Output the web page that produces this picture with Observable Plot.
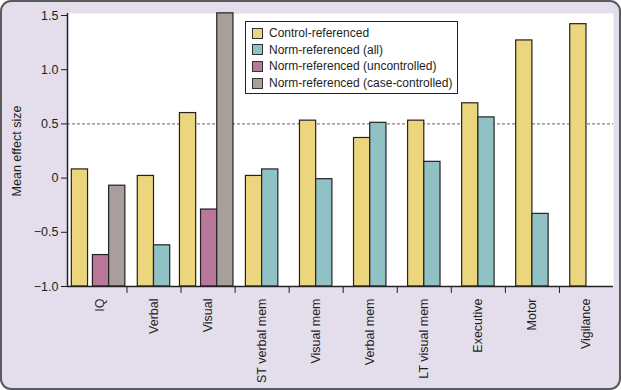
<!DOCTYPE html>
<html>
<head>
<meta charset="utf-8">
<script src="https://cdn.jsdelivr.net/npm/d3@7"></script>
<script src="https://cdn.jsdelivr.net/npm/@observablehq/plot@0.6"></script>
<style>
  html, body { margin: 0; padding: 0; background: #ffffff; }
  #wrap { position: relative; width: 621px; height: 390px; font-family: "Liberation Sans", Arial, sans-serif; }
  #bg { position: absolute; left: 0; top: 0; width: 621px; height: 390px; box-sizing: border-box;
        border: 2px solid #5a5a5e; border-radius: 11px; background: #e4deec; }
  #chart { position: absolute; left: 0; top: 0; }
  #chart svg text { font-size: 12.5px !important; fill: #1e1e1e; }
  #legend { position: absolute; left: 245px; top: 21px; width: 213px; height: 73px; box-sizing: border-box;
            border: 1px solid #222; background: #fff; padding: 3px 0 0 6px; }
  .row { display: flex; align-items: center; height: 16.6px; font-size: 12px; color: #1e1e1e; white-space: nowrap; }
  .sw { width: 9px; height: 9px; border: 1px solid #333; margin-right: 6px; flex: none; }
</style>
</head>
<body>
<div id="wrap">
  <div id="bg"></div>
  <div id="chart"></div>
  <div id="legend"></div>
</div>
<script>
const categories = ["IQ", "Verbal", "Visual", "ST verbal mem", "Visual mem", "Verbal mem", "LT visual mem", "Executive", "Motor", "Vigilance"];
const series = ["Control-referenced", "Norm-referenced (all)", "Norm-referenced (uncontrolled)", "Norm-referenced (case-controlled)"];
const controlReferenced = [0.08, 0.02, 0.60, 0.02, 0.53, 0.37, 0.53, 0.69, 1.27, 1.42];
const normAll = [null, -0.62, null, 0.08, -0.01, 0.51, 0.15, 0.56, -0.33, null];
const normUncontrolled = [-0.71, null, -0.29, null, null, null, null, null, null, null];
const normCaseControlled = [-0.07, null, 1.52, null, null, null, null, null, null, null];
const yTicks = [-1, -0.5, 0, 0.5, 1, 1.5];
const yTickLabels = ["\u22121.0", "\u22120.5", "0", "0.5", "1.0", "1.5"];
const seriesColors = ["#ebd67e", "#8fc1c5", "#b9789b", "#a89e9c"];

const seriesValues = [controlReferenced, normAll, normUncontrolled, normCaseControlled];
const barW = 0.3;
// slot offsets within a group (in category units)
function slot(k, i) {
  const triple = normUncontrolled[i] != null || normCaseControlled[i] != null;
  if (triple) return [-0.02, null, 0.37, 0.67][k];
  return [0.2, 0.5, null, null][k];
}
const rows = [];
categories.forEach((c, i) => {
  seriesValues.forEach((arr, k) => {
    if (arr[i] != null) rows.push({i, k, v: arr[i], off: slot(k, i)});
  });
});
const yMin = yTicks[0];
const xStart = -0.1;

const chart = Plot.plot({
  width: 621,
  height: 390,
  marginLeft: 67,
  marginRight: 8,
  marginTop: 15,
  marginBottom: 104,
  style: {background: "transparent", fontFamily: "'Liberation Sans', Arial, sans-serif", fontSize: "12.5px", color: "#1e1e1e", overflow: "visible"},
  x: {domain: [xStart, categories.length]},
  y: {domain: [yMin, yTicks[yTicks.length - 1]]},
  marks: [
    Plot.frame({fill: "white", stroke: null, insetTop: -2}),
    Plot.ruleY([0.5], {stroke: "#666", strokeDasharray: "3,2", strokeWidth: 1}),
    Plot.rectY(rows, {
      x1: d => d.i + d.off,
      x2: d => d.i + d.off + barW,
      y1: yMin,
      y2: "v",
      fill: d => seriesColors[d.k],
      stroke: "#222",
      strokeWidth: 1.2
    }),
    Plot.axisY({
      ticks: yTicks,
      tickFormat: (d) => yTickLabels[yTicks.indexOf(d)],
      tickSize: 6,
      tickPadding: 3,
      label: "Mean effect size",
      labelAnchor: "center",
      labelArrow: "none",
      labelOffset: 55
    }),
    Plot.axisX({
      ticks: d3.range(1, categories.length),
      tickFormat: () => "",
      tickSize: 7,
      label: null
    }),
    Plot.axisX({
      ticks: categories.map((_, i) => i + 0.5),
      tickFormat: (d) => categories[Math.round(d - 0.5)],
      tickSize: 0,
      tickPadding: 12,
      tickRotate: -90,
      label: null
    }),
    Plot.ruleX([xStart], {stroke: "#222", strokeWidth: 1.5, insetTop: -2}),
    Plot.ruleY([yMin], {stroke: "#222", strokeWidth: 1.5})
  ]
});
document.getElementById("chart").appendChild(chart);

const legend = document.getElementById("legend");
series.forEach((s, k) => {
  const row = document.createElement("div");
  row.className = "row";
  const sw = document.createElement("span");
  sw.className = "sw";
  sw.style.background = seriesColors[k];
  const t = document.createElement("span");
  t.textContent = s;
  row.appendChild(sw);
  row.appendChild(t);
  legend.appendChild(row);
});
</script>
</body>
</html>
